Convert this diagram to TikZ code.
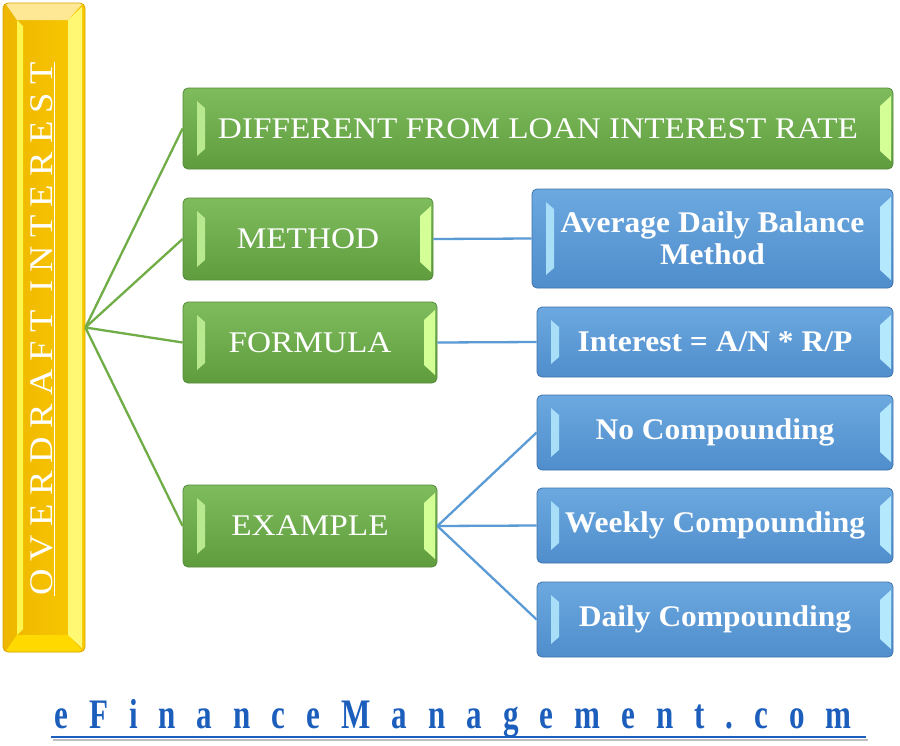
\documentclass[tikz,border=0pt]{standalone}
\usepackage{fontspec}
\setmainfont{Liberation Serif}
\newfontfamily\gfont[FakeStretch=1.11]{Liberation Serif}
\newfontfamily\bfontx[FakeStretch=1.05]{Liberation Serif Bold}
\newfontfamily\vfont[FakeStretch=1.11,LetterSpace=25]{Liberation Serif}
\newfontfamily\efont[FakeStretch=0.74,LetterSpace=50]{Liberation Serif Bold}
\usetikzlibrary{calc}
\definecolor{gtop}{HTML}{7EBC5E}
\definecolor{gbot}{HTML}{5E9C3E}
\definecolor{gborder}{HTML}{558A3A}
\definecolor{glight}{HTML}{B8E890}
\definecolor{gbright}{HTML}{D4FF96}
\definecolor{gline}{HTML}{70AD47}
\definecolor{btop}{HTML}{6CA9E0}
\definecolor{bbot}{HTML}{4F8DCC}
\definecolor{bborder}{HTML}{3E73AA}
\definecolor{blight}{HTML}{A8DEF7}
\definecolor{bbright}{HTML}{B4E8FC}
\definecolor{bline}{HTML}{5B9BD5}
\definecolor{yleft}{HTML}{EEB600}
\definecolor{yright}{HTML}{F9C900}
\definecolor{yborder}{HTML}{D9A400}
\definecolor{brandblue}{HTML}{1C5EBC}
\tikzset{
  bevel/.style 2 args={path picture={
    \fill[#1, sharp corners] ($(path picture bounding box.north west)+(14,13)$) -- ($(path picture bounding box.north west)+(22,20)$) -- ($(path picture bounding box.south west)+(22,-20)$) -- ($(path picture bounding box.south west)+(14,-13)$) -- cycle;
    \fill[#2, sharp corners] ($(path picture bounding box.north east)+(-2,8)$) -- ($(path picture bounding box.north east)+(-13,18)$) -- ($(path picture bounding box.south east)+(-13,-18)$) -- ($(path picture bounding box.south east)+(-2,-8)$) -- cycle;
  }},
  gbox/.style={rounded corners=5pt, draw=gborder, line width=0.8pt, top color=gtop, bottom color=gbot, bevel={glight}{gbright}, inner sep=0pt, text=white, font=\gfont\fontsize{30}{32}\selectfont},
  bbox/.style={rounded corners=5pt, draw=bborder, line width=0.8pt, top color=btop, bottom color=bbot, bevel={blight}{bbright}, inner sep=0pt, text=white, align=center, font=\bfontx\fontsize{30}{32}\selectfont},
  ybar/.style={rounded corners=5pt, draw=yborder, line width=0.8pt, left color=yleft, right color=yright, inner sep=0pt,
    path picture={
      \fill[yellow!60!orange!40!white, sharp corners] ($(path picture bounding box.north west)+(2,0)$) -- ($(path picture bounding box.north east)+(-2,0)$) -- ($(path picture bounding box.north east)+(-17,17)$) -- ($(path picture bounding box.north west)+(14,17)$) -- cycle;
      \fill[orange!30!yellow, sharp corners] ($(path picture bounding box.south west)+(2,0)$) -- ($(path picture bounding box.south east)+(-2,0)$) -- ($(path picture bounding box.south east)+(-17,-17)$) -- ($(path picture bounding box.south west)+(14,-17)$) -- cycle;
      \fill[yellow!70!white, sharp corners] ($(path picture bounding box.north west)+(14,17)$) -- ($(path picture bounding box.north west)+(20,23)$) -- ($(path picture bounding box.south west)+(20,-23)$) -- ($(path picture bounding box.south west)+(14,-17)$) -- cycle;
      \fill[yellow!55!white, sharp corners] ($(path picture bounding box.north east)+(-3,4)$) -- ($(path picture bounding box.north east)+(-17,17)$) -- ($(path picture bounding box.south east)+(-17,-17)$) -- ($(path picture bounding box.south east)+(-3,-4)$) -- cycle;
    }},
  gconn/.style={draw=gline, line width=2.3pt},
  bconn/.style={draw=bline, line width=2.3pt}
}
\begin{document}
\begin{tikzpicture}[x=1pt,y=-1pt]
\useasboundingbox[fill=white] (0,0) rectangle (900,745);
% left bar
\node[ybar, minimum width=82pt, minimum height=649pt] (bar) at (44,327.5) {};
\node[rotate=90, text=white, inner sep=0pt, font=\vfont\fontsize{33}{35}\selectfont] (title) at (43,329) {\underline{OVERDRAFT INTEREST}};
% green boxes
\node[gbox, minimum width=710pt, minimum height=81pt] (diff) at (538,128.5) {DIFFERENT FROM LOAN INTEREST RATE};
\node[gbox, minimum width=250pt, minimum height=82pt] (method) at (308,239) {METHOD};
\node[gbox, minimum width=254pt, minimum height=81pt] (formula) at (310,342.5) {FORMULA};
\node[gbox, minimum width=254pt, minimum height=82pt] (example) at (310,526) {EXAMPLE};
% blue boxes
\node[bbox, minimum width=361pt, minimum height=99pt] (avg) at (712.5,238.5) {Average Daily Balance\\Method};
\node[bbox, minimum width=356pt, minimum height=70pt] (interest) at (715,342) {Interest = A/N * R/P};
\node[bbox, minimum width=356pt, minimum height=75pt] (nocomp) at (715,432.5) {No Compounding};
\node[bbox, minimum width=356pt, minimum height=75pt] (weekly) at (715,525.5) {Weekly Compounding};
\node[bbox, minimum width=356pt, minimum height=75pt] (daily) at (715,619.5) {Daily Compounding};
% connectors
\draw[gconn] (bar.east) -- (diff.west);
\draw[gconn] (bar.east) -- (method.west);
\draw[gconn] (bar.east) -- (formula.west);
\draw[gconn] (bar.east) -- (example.west);
\draw[bconn] (method.east) -- (avg.west);
\draw[bconn] (formula.east) -- (interest.west);
\draw[bconn] (example.east) -- (nocomp.west);
\draw[bconn] (example.east) -- (weekly.west);
\draw[bconn] (example.east) -- (daily.west);
% brand
\node[text=brandblue, inner sep=0pt, font=\efont\fontsize{42}{42}\selectfont] (brand) at (453,719) {eFinanceManagement.com};
\coordinate (ulA) at (51,737);
\coordinate (ulB) at (866,737);
\draw[gray!50, line width=2pt] ($(ulA)+(2,3)$) -- ($(ulB)+(2,3)$);
\draw[brandblue, line width=2.5pt] (ulA) -- (ulB);
\end{tikzpicture}
\end{document}
